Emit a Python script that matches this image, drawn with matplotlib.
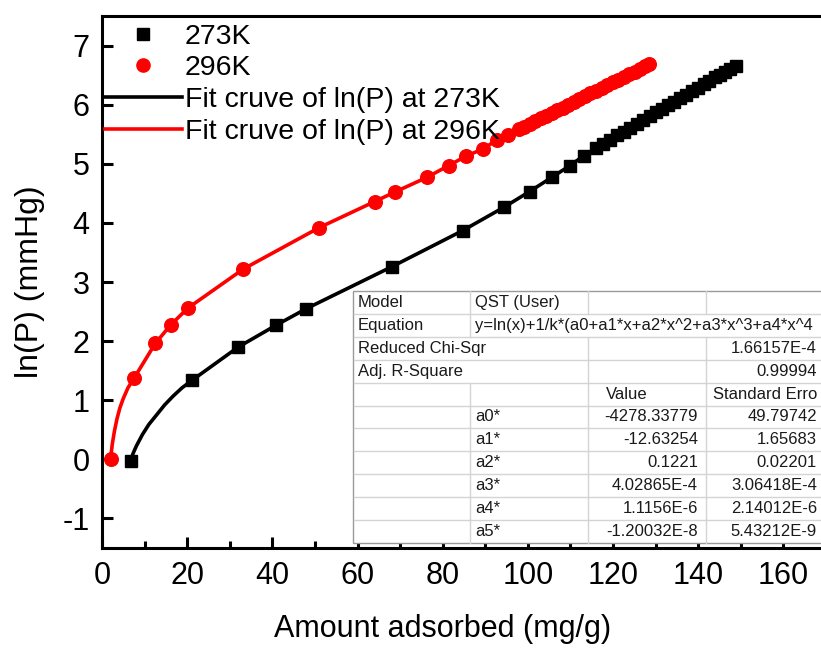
import matplotlib
matplotlib.use('Agg')
import matplotlib.pyplot as plt
from matplotlib.lines import Line2D

plt.rcParams['font.family'] = ['Liberation Sans', 'DejaVu Sans']
plt.rcParams['axes.unicode_minus'] = False

# 273K data (amount adsorbed mg/g, ln(P))
x273 = [6.7, 21.2, 32.0, 40.9, 48.0, 68.1, 84.7, 94.5, 100.4, 105.6, 109.9,
        113.2, 116.1, 117.7, 119.3, 120.9, 122.5, 124.0, 125.6, 127.1, 128.6,
        130.1, 131.6, 133.0, 134.4, 135.8, 137.2, 138.6, 140.0, 141.3, 142.6,
        143.9, 145.1, 146.3, 147.5, 148.8]
y273 = [-0.03, 1.34, 1.90, 2.27, 2.55, 3.26, 3.87, 4.27, 4.53, 4.77, 4.97,
        5.14, 5.27, 5.34, 5.41, 5.48, 5.54, 5.61, 5.68, 5.74, 5.80,
        5.87, 5.93, 5.99, 6.05, 6.11, 6.17, 6.23, 6.29, 6.35, 6.40,
        6.46, 6.51, 6.56, 6.61, 6.66]

# 296K data
x296 = [2.0, 7.5, 12.5, 16.2, 20.2, 33.2, 51.0, 64.0, 68.7, 76.3, 81.4,
        85.5, 89.4, 92.7, 95.4, 97.8, 99.1, 100.4, 101.7, 103.0, 104.3,
        105.6, 106.9, 108.2, 109.5, 110.8, 112.1, 113.4, 114.7, 116.0, 117.3,
        118.6, 119.9, 121.2, 122.5, 123.8, 125.1, 126.4, 127.6, 128.4]
y296 = [0.0, 1.37, 1.96, 2.28, 2.56, 3.22, 3.92, 4.36, 4.52, 4.77, 4.97,
        5.13, 5.25, 5.40, 5.49, 5.58, 5.63, 5.67, 5.72, 5.77, 5.81,
        5.86, 5.91, 5.95, 6.00, 6.05, 6.09, 6.14, 6.19, 6.23, 6.28,
        6.33, 6.38, 6.42, 6.47, 6.52, 6.56, 6.61, 6.65, 6.68]

# extra points of the fit curves near the low-loading end
fit273_start_x = [7.3, 8.1, 9.5, 11.0, 12.8, 14.7, 16.7, 18.8]
fit273_start_y = [0.10, 0.23, 0.42, 0.59, 0.75, 0.92, 1.07, 1.21]
fit296_start_x = [2.4, 2.9, 3.5, 4.2, 5.0, 6.1]
fit296_start_y = [0.25, 0.47, 0.68, 0.87, 1.03, 1.21]

table_rows = [
    ['Model', 'QST (User)', '', ''],
    ['Equation', 'y=ln(x)+1/k*(a0+a1*x+a2*x^2+a3*x^3+a4*x^4', '', ''],
    ['Reduced Chi-Sqr', '', '', '1.66157E-4'],
    ['Adj. R-Square', '', '', '0.99994'],
    ['', '', 'Value', 'Standard Erro'],
    ['', 'a0*', '-4278.33779', '49.79742'],
    ['', 'a1*', '-12.63254', '1.65683'],
    ['', 'a2*', '0.1221', '0.02201'],
    ['', 'a3*', '4.02865E-4', '3.06418E-4'],
    ['', 'a4*', '1.1156E-6', '2.14012E-6'],
    ['', 'a5*', '-1.20032E-8', '5.43212E-9'],
]

W, H = 821, 648
fig = plt.figure(figsize=(W / 100, H / 100), dpi=100)
ax = fig.add_axes([102 / W, 1 - 548 / H, 724 / W, 532 / H])

fx273 = [x273[0]] + fit273_start_x + x273[1:]
fy273 = [y273[0]] + fit273_start_y + y273[1:]
fx296 = [x296[0]] + fit296_start_x + x296[1:]
fy296 = [y296[0]] + fit296_start_y + y296[1:]

ax.plot(fx273, fy273, color='black', lw=2.6, zorder=2, solid_joinstyle='round')
ax.plot(fx296, fy296, color='red', lw=2.6, zorder=2, solid_joinstyle='round')
ax.plot(x273, y273, 's', color='black', ms=8.8, zorder=3)
ax.plot(x296, y296, 'o', color='red', ms=9.8, zorder=3)

ax.set_xlim(0, 170)
ax.set_ylim(-1.5, 7.5)
ax.set_xticks(range(0, 161, 20))
ax.set_xticks(range(10, 171, 20), minor=True)
ax.set_yticks(range(-1, 8))
for s in ax.spines.values():
    s.set_linewidth(2.2)
ax.tick_params(which='major', direction='in', length=8, width=2.2,
               labelsize=22, pad=9)
ax.tick_params(which='minor', direction='in', length=5, width=2.2)
ax.tick_params(axis='y', which='minor', left=False)
ax.set_xlabel('Amount adsorbed (mg/g)', fontsize=22)
ax.set_ylabel('ln(P) (mmHg)', fontsize=23)
ax.xaxis.set_label_coords((443 - 102) / 724, -(614 - 548) / 532)
ax.yaxis.set_label_coords(-(102 - 45) / 724, 0.5)

handles = [
    Line2D([], [], ls='none', marker='s', color='black', ms=8),
    Line2D([], [], ls='none', marker='o', color='red', ms=9.5),
    Line2D([], [], color='black', lw=2.6),
    Line2D([], [], color='red', lw=2.6),
]
labels = ['273K', '296K', 'Fit cruve of ln(P) at 273K', 'Fit cruve of ln(P) at 296K']
ax.legend(handles, labels, loc='upper left', frameon=False, fontsize=20.5,
          handlelength=2.7, handletextpad=0.12, labelspacing=0.2,
          borderaxespad=0.0, bbox_to_anchor=(-0.012, 1.007))

# fit result table (figure pixel coordinates)
def fx(px):
    return px / W

def fy(py):
    return 1 - py / H

col_edges = [353, 470, 588, 706, 830]
top, row_h = 291, 22.9
n = len(table_rows)
bottom = top + n * row_h
tr = fig.transFigure
fig.patches.append(plt.Rectangle((fx(353), fy(bottom)), fx(830) - fx(353),
                                 fy(top) - fy(bottom), transform=tr,
                                 facecolor='white', edgecolor='#9a9a9a',
                                 lw=1.0, zorder=5))
grid = '#d4d4d4'
for i in range(1, n):
    yy = fy(top + i * row_h)
    fig.add_artist(Line2D([fx(354), fx(830)], [yy, yy], color=grid, lw=1.0,
                          transform=tr, zorder=6))
vlines = {0: [1, 2, 3], 1: [1], 2: [2, 3], 3: [2, 3]}
for i in range(n):
    y0, y1 = fy(top + i * row_h), fy(top + (i + 1) * row_h)
    for c in vlines.get(i, [1, 2, 3]):
        fig.add_artist(Line2D([fx(col_edges[c])] * 2, [y0, y1], color=grid,
                              lw=1.0, transform=tr, zorder=6))
fs = 12.0
for i, row in enumerate(table_rows):
    yc = fy(top + (i + 0.5) * row_h)
    for c, txt in enumerate(row):
        if not txt:
            continue
        if c == 3:
            fig.text(fx(817), yc, txt, ha='right', va='center', fontsize=fs,
                     color='#1a1a1a', zorder=7)
        elif c == 2 and i != 4:
            fig.text(fx(698), yc, txt, ha='right', va='center', fontsize=fs,
                     color='#1a1a1a', zorder=7)
        else:
            xoff = 18 if (i == 4 and c == 2) else 5
            fig.text(fx(col_edges[c] + xoff), yc, txt, ha='left', va='center',
                     fontsize=fs, color='#1a1a1a', zorder=7)

fig.savefig('out.png', dpi=100)
